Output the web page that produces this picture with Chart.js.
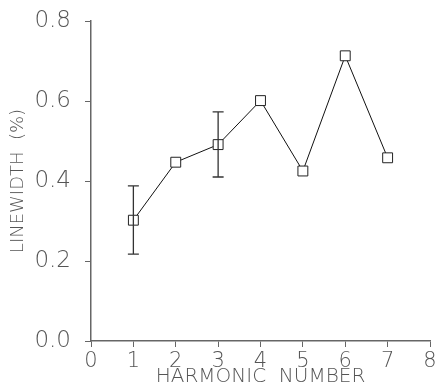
<!DOCTYPE html>
<html>
<head>
<meta charset="utf-8">
<script src="https://cdn.jsdelivr.net/npm/chart.js@4/dist/chart.umd.min.js"></script>
<style>
  html, body { margin: 0; padding: 0; background: #fff; }
  #wrap { width: 439px; height: 385px; }
</style>
</head>
<body>
<div id="wrap"><canvas id="lwChart"></canvas></div>
<script>
// Datos
const harmonics = [1, 2, 3, 4, 5, 6, 7];
const linewidth = [0.302, 0.447, 0.491, 0.601, 0.425, 0.713, 0.458];
const errLow  = [0.217, null, 0.410, null, null, null, null];
const errHigh = [0.388, null, 0.573, null, null, null, null];
const xTicks = [0, 1, 2, 3, 4, 5, 6, 7, 8];
const yTicks = [0.0, 0.2, 0.4, 0.6, 0.8];

const txtColor = '#555';
const axisColor = '#666';

// barras de error
const errorBars = {
    id: 'errorBars',
    afterDatasetsDraw(chart) {
        const { ctx, scales: { x, y } } = chart;
        ctx.save();
        ctx.strokeStyle = '#333';
        ctx.lineWidth = 1.3;
        harmonics.forEach((h, i) => {
            if (errLow[i] == null) return;
            const px = x.getPixelForValue(h);
            const top = y.getPixelForValue(errHigh[i]);
            const bot = y.getPixelForValue(errLow[i]);
            ctx.beginPath();
            ctx.moveTo(px, top); ctx.lineTo(px, bot);
            ctx.moveTo(px - 5.5, top); ctx.lineTo(px + 5.5, top);
            ctx.moveTo(px - 5.5, bot); ctx.lineTo(px + 5.5, bot);
            ctx.stroke();
        });
        ctx.restore();
    }
};

const ctx = document.getElementById('lwChart').getContext('2d');
const lwChart = new Chart(ctx, {
    type: 'line',
    data: {
        datasets: [{
            label: 'Linewidth',
            data: harmonics.map((h, i) => ({ x: h, y: linewidth[i] })),
            borderColor: '#111',
            borderWidth: 1,
            pointStyle: 'rect',
            pointRadius: 7,
            pointBorderWidth: 1,
            pointBorderColor: '#222',
            pointBackgroundColor: '#fff',
            tension: 0
        }]
    },
    options: {
        responsive: true,
        maintainAspectRatio: false,
        animation: false,
        layout: { padding: { top: 21, right: 9, left: 0, bottom: 0 } },
        plugins: { legend: { display: false }, tooltip: { enabled: false } },
        scales: {
            x: {
                type: 'linear',
                min: 0, max: 8,
                afterBuildTicks: s => { s.ticks = xTicks.map(v => ({ value: v })); },
                afterFit: s => { s.height = 44; s.paddingLeft = 0; s.paddingRight = 0; },
                grid: { drawOnChartArea: false, drawTicks: true, tickLength: 6, color: axisColor },
                border: { display: true, color: axisColor, width: 1.5 },
                ticks: {
                    color: txtColor, padding: 2,
                    font: { family: 'DejaVu Sans', size: 21, weight: 200 }
                },
                title: {
                    display: true, text: 'HARMONIC  NUMBER', color: txtColor,
                    padding: { top: 0, bottom: -4 },
                    font: { family: 'DejaVu Sans', size: 20, weight: 200 }
                }
            },
            y: {
                min: 0, max: 0.8,
                afterBuildTicks: s => { s.ticks = yTicks.map(v => ({ value: v })); },
                afterFit: s => { s.width = 91; s.paddingTop = 0; s.paddingBottom = 0; },
                grid: { drawOnChartArea: false, drawTicks: true, tickLength: 6, color: axisColor },
                border: { display: true, color: axisColor, width: 1.5 },
                ticks: {
                    color: txtColor, padding: 14,
                    callback: v => v.toFixed(1),
                    font: { family: 'DejaVu Sans', size: 23, weight: 200 }
                },
                title: {
                    display: true, text: 'LINEWIDTH  (%)', color: txtColor,
                    padding: { top: 8, bottom: 0 },
                    font: { family: 'DejaVu Sans', size: 18, weight: 200 }
                }
            }
        }
    },
    plugins: [errorBars]
});
</script>
</body>
</html>
